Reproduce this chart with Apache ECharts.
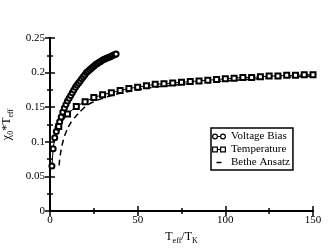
<!DOCTYPE html>
<html>
<head>
<meta charset="utf-8">
<script src="https://cdn.jsdelivr.net/npm/echarts@6/dist/echarts.min.js"></script>
<style>html,body{margin:0;padding:0;background:#fff}#c{width:334px;height:250px}</style>
</head>
<body>
<div id="c"></div>
<script>
var voltageX = [1.1,1.8,2.7,3.6,4.6,5.5,6.4,7.3,8.2,9.1,10.0,10.9,11.8,12.7,13.6,14.5,15.4,16.3,17.2,18.1,19.0,19.9,20.8,21.7,22.6,23.5,24.4,25.3,26.2,27.1,28.0,28.9,29.8,30.7,31.6,32.5,33.4,34.3,35.2,36.1,37.0,37.7];
var voltageY = [0.065,0.090,0.106,0.115,0.121,0.129,0.136,0.143,0.149,0.154,0.159,0.163,0.167,0.171,0.175,0.179,0.182,0.185,0.188,0.191,0.194,0.197,0.200,0.202,0.204,0.206,0.208,0.210,0.212,0.213,0.215,0.216,0.218,0.219,0.220,0.221,0.222,0.223,0.224,0.225,0.226,0.227];
var tempX = [5,10,15,20,25,30,35,40,45,50,55,60,65,70,75,80,85,90,95,100,105,110,115,120,125,130,135,140,145,150];
var tempY = [0.122,0.140,0.151,0.158,0.164,0.168,0.171,0.174,0.177,0.179,0.181,0.183,0.184,0.185,0.186,0.187,0.188,0.189,0.190,0.191,0.192,0.193,0.193,0.194,0.195,0.195,0.196,0.196,0.197,0.197];
var betheX = [5.2,5.8,6.9,8.0,9.3,11.0,13.1,15.5,18.1,22.0,26.0,30.0,40.0,50.0,60.0,80.0,100.0,125.0,150.0];
var betheY = [0.066,0.080,0.095,0.106,0.115,0.124,0.132,0.139,0.146,0.154,0.159,0.163,0.170,0.175,0.179,0.184,0.188,0.192,0.195];
var xTicks = [0,50,100,150];
var yTicks = [0,0.05,0.1,0.15,0.2,0.25];
var seriesNames = ['Voltage Bias','Temperature','Bethe Ansatz'];

function pairs(xs, ys){ return xs.map(function(x,i){return [x, ys[i]];}); }
var F = 'Liberation Serif';
// legend icon shapes (14 x 8 box)
var ICON_CIRC = 'path://M0,4 A3,3 0 1,1 6,4 A3,3 0 1,1 0,4 Z M1.2,4 A1.8,1.8 0 1,0 4.8,4 A1.8,1.8 0 1,0 1.2,4 Z ' +
  'M8,4 A3,3 0 1,1 14,4 A3,3 0 1,1 8,4 Z M9.2,4 A1.8,1.8 0 1,0 12.8,4 A1.8,1.8 0 1,0 9.2,4 Z M6,3.4 L8,3.4 L8,4.6 L6,4.6 Z M0,0 L0.01,0 L0.01,0.01 Z M14,8 L14.01,8 L14.01,8.01 Z';
var ICON_RECT = 'path://M0,1 L6,1 L6,7 L0,7 Z M1.2,2.2 L1.2,5.8 L4.8,5.8 L4.8,2.2 Z ' +
  'M8,1 L14,1 L14,7 L8,7 Z M9.2,2.2 L9.2,5.8 L12.8,5.8 L12.8,2.2 Z M6,3.4 L8,3.4 L8,4.6 L6,4.6 Z M0,0 L0.01,0 L0.01,0.01 Z M14,8 L14.01,8 L14.01,8.01 Z';
var ICON_DASH = 'path://M4.5,3.3 L9.5,3.3 L9.5,4.7 L4.5,4.7 Z M0,0 L0.01,0 L0.01,0.01 Z M14,8 L14.01,8 L14.01,8.01 Z';

var chart = echarts.init(document.getElementById('c'), null, {renderer:'canvas'});
var axisCommon = {
  axisLine:{show:true,lineStyle:{color:'#000',width:2}},
  axisTick:{show:true,inside:true,length:5,lineStyle:{color:'#000',width:1.5}},
  minorTick:{show:true,splitNumber:2,length:3,lineStyle:{color:'#000',width:1.5}},
  splitLine:{show:false}
};
var legendItemStyle = {color:'#000',borderWidth:0};
chart.setOption({
  animation:false,
  backgroundColor:'#fff',
  grid:{left:50,right:21,top:38,bottom:39,containLabel:false,outerBoundsMode:'none'},
  legend:{
    orient:'vertical', left:211, top:128, itemGap:2, itemWidth:14, itemHeight:8,
    padding:[3,3,2,1], borderColor:'#000', borderWidth:1.5, backgroundColor:'#fff',
    textStyle:{fontFamily:F,fontSize:11,color:'#000'},
    data:[
      {name:seriesNames[0],icon:ICON_CIRC,itemStyle:legendItemStyle},
      {name:seriesNames[1],icon:ICON_RECT,itemStyle:legendItemStyle},
      {name:seriesNames[2],icon:ICON_DASH,itemStyle:legendItemStyle}
    ]
  },
  xAxis:[
    Object.assign({type:'value',min:xTicks[0],max:xTicks[xTicks.length-1],interval:50,position:'bottom',
      axisLabel:{color:'#000',fontFamily:F,fontSize:11,margin:4},
      name:'{a|T}{s|eff}{a|/T}{s|K}', nameLocation:'middle', nameGap:11,
      nameTextStyle:{rich:{a:{fontFamily:F,fontSize:12,color:'#000',lineHeight:16,verticalAlign:'middle'},s:{fontFamily:F,fontSize:8,color:'#000',padding:[8,0,0,0]}}}
    }, axisCommon),
    Object.assign({type:'value',min:0,max:150,interval:50,position:'top',axisLabel:{show:false}}, axisCommon)
  ],
  yAxis:[
    Object.assign({type:'value',min:yTicks[0],max:yTicks[yTicks.length-1],interval:0.05,position:'left',
      axisLabel:{color:'#000',fontFamily:F,fontSize:11,margin:5},
      name:'{a|χ}{s|0}{a|*T}{s|eff}', nameLocation:'middle', nameGap:27, nameRotate:90,
      nameTextStyle:{rich:{a:{fontFamily:F,fontSize:12,color:'#000',lineHeight:16,verticalAlign:'middle'},s:{fontFamily:F,fontSize:8,color:'#000',padding:[8,0,0,0]}}}
    }, axisCommon),
    Object.assign({type:'value',min:0,max:0.25,interval:0.05,position:'right',axisLabel:{show:false}}, axisCommon)
  ],
  series:[
    {name:seriesNames[0],type:'line',data:pairs(voltageX,voltageY),symbol:'emptyCircle',symbolSize:5,
      lineStyle:{color:'#000',width:1},itemStyle:{color:'#000',borderWidth:1.2},z:3},
    {name:seriesNames[1],type:'line',data:pairs(tempX,tempY),symbol:'emptyRect',symbolSize:5,
      lineStyle:{color:'#000',width:1},itemStyle:{color:'#000',borderWidth:1.2},z:3},
    {name:seriesNames[2],type:'line',data:pairs(betheX,betheY),symbol:'none',smooth:true,
      lineStyle:{color:'#000',width:1.5,type:[6,4]},itemStyle:{color:'#000'},z:2}
  ]
});
</script>
</body>
</html>
